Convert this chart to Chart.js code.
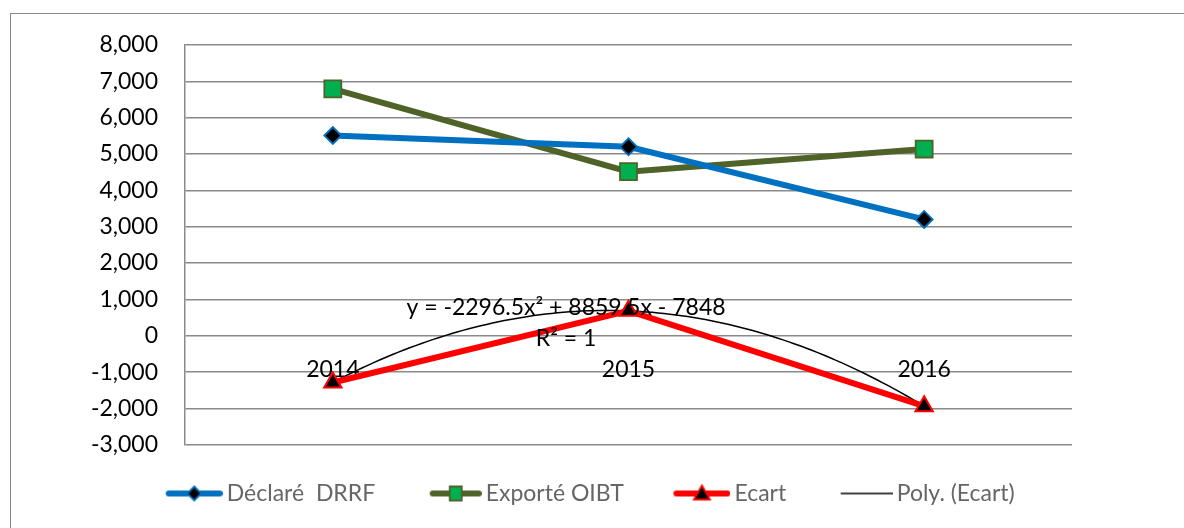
<!DOCTYPE html>
<html>
<head>
<meta charset="utf-8">
<script src="https://cdn.jsdelivr.net/npm/chart.js@4.4.0/dist/chart.umd.min.js"></script>
<style>
  html, body { margin: 0; padding: 0; background: #fff; overflow: hidden; }
  #wrap { position: relative; width: 1184px; height: 528px; }
  #frame { position: absolute; left: 10px; top: 13px; width: 1200px; height: 600px; border: 1.5px solid #878787; box-sizing: border-box; }
  #chart { position: absolute; left: 0; top: 0; }
</style>
</head>
<body>
<div id="wrap">
  <div id="frame"></div>
  <canvas id="chart" width="1184" height="528"></canvas>
</div>
<script>
// data
const years = ['2014', '2015', '2016'];
const declareDRRF = [5510, 5200, 3200];
const exporteOIBT = [6795, 4515, 5138];
const ecart = [-1285, 685, -1938];
// Excel polynomial trendline of Ecart, x = 1..3
const polyCoef = [-2296.5, 8859.5, -7848];
const yTicks = [-3000, -2000, -1000, 0, 1000, 2000, 3000, 4000, 5000, 6000, 7000, 8000];

const FONT = { family: 'Lato, "Open Sans", sans-serif', size: 23 };
const GRID = '#8a8a8a';

// legend swatch: line with marker in the middle (transparent lead for spacing)
function swatch(color, lineW, len, marker, fill, stroke) {
  const c = document.createElement('canvas');
  c.width = 104; c.height = 24;
  const g = c.getContext('2d');
  const x1 = 104 - len, cy = 12;
  g.strokeStyle = color;
  g.lineWidth = lineW;
  g.lineCap = lineW > 3 ? 'round' : 'butt';
  g.beginPath();
  g.moveTo(x1 + (lineW > 3 ? 3 : 0), cy);
  g.lineTo(104 - (lineW > 3 ? 3 : 0), cy);
  g.stroke();
  const mx = x1 + len / 2;
  g.lineCap = 'butt';
  g.lineWidth = 1.8;
  g.fillStyle = fill;
  g.strokeStyle = stroke;
  g.beginPath();
  if (marker === 'diamond') {
    g.moveTo(mx, cy - 7); g.lineTo(mx + 7, cy); g.lineTo(mx, cy + 7); g.lineTo(mx - 7, cy); g.closePath();
  } else if (marker === 'square') {
    g.rect(mx - 6, cy - 7, 12, 14);
  } else if (marker === 'triangle') {
    g.moveTo(mx, cy - 8); g.lineTo(mx + 8, cy + 6); g.lineTo(mx - 8, cy + 6); g.closePath();
  } else {
    return c;
  }
  g.fill(); g.stroke();
  return c;
}

const icons = [
  swatch('#0070C0', 6, 57, 'diamond', '#000', '#0070C0'),
  swatch('#4F6228', 6, 52, 'square', '#00B050', '#4F6228'),
  swatch('#FF0000', 6, 57, 'triangle', '#000', '#FF0000'),
  swatch('#000', 1.5, 52, null)
];
const legendNames = ['Déclaré  DRRF', 'Exporté OIBT', 'Ecart', 'Poly. (Ecart)'];

const polyTrend = {
  id: 'polyTrend',
  beforeDatasetsDraw(chart) {
    const xs = chart.scales.x, ys = chart.scales.y, g = chart.ctx;
    g.save();
    g.beginPath();
    for (let i = 0; i <= 100; i++) {
      const t = i / 50;
      const n = t + 1;
      const v = polyCoef[0] * n * n + polyCoef[1] * n + polyCoef[2];
      const px = xs.getPixelForValue(t), py = ys.getPixelForValue(v);
      if (i === 0) g.moveTo(px, py); else g.lineTo(px, py);
    }
    g.lineWidth = 1.5;
    g.strokeStyle = '#000';
    g.stroke();
    g.restore();
  },
  afterDatasetsDraw(chart) {
    const g = chart.ctx;
    g.save();
    g.font = FONT.size + 'px ' + FONT.family;
    g.fillStyle = '#000';
    g.textAlign = 'center';
    g.textBaseline = 'middle';
    g.fillText('y = -2296.5x² + 8859.5x - 7848', 566, 308);
    g.fillText('R² = 1', 566, 339);
    g.restore();
  }
};

new Chart(document.getElementById('chart'), {
  type: 'line',
  data: {
    labels: years,
    datasets: [{
      label: legendNames[0],
      data: declareDRRF,
      borderColor: '#0070C0',
      borderWidth: 6,
      pointStyle: 'rectRot',
      pointRadius: 8.5,
      pointBackgroundColor: '#000',
      pointBorderColor: '#0070C0',
      pointBorderWidth: 1.8
    }, {
      label: legendNames[1],
      data: exporteOIBT,
      borderColor: '#4F6228',
      borderWidth: 6,
      pointStyle: 'rect',
      pointRadius: 12,
      pointBackgroundColor: '#00B050',
      pointBorderColor: '#4F6228',
      pointBorderWidth: 1.8
    }, {
      label: legendNames[2],
      data: ecart,
      borderColor: '#FF0000',
      borderWidth: 6,
      pointStyle: 'triangle',
      pointRadius: 10,
      pointBackgroundColor: '#000',
      pointBorderColor: '#FF0000',
      pointBorderWidth: 2
    }]
  },
  options: {
    responsive: false,
    devicePixelRatio: 1,
    animation: false,
    events: [],
    layout: { padding: { top: 45, left: 69, right: 112, bottom: 13 } },
    plugins: {
      tooltip: { enabled: false },
      legend: {
        position: 'bottom',
        title: { display: true, text: ' ', font: { size: 1 }, padding: { top: 26, bottom: 0 } },
        labels: {
          usePointStyle: true,
          pointStyleWidth: 89,
          padding: 10,
          color: '#000',
          font: FONT,
          generateLabels: () => legendNames.map((name, i) => ({
            text: name,
            pointStyle: icons[i],
            fillStyle: 'transparent',
            strokeStyle: 'transparent',
            lineWidth: 0,
            datasetIndex: i
          }))
        }
      }
    },
    scales: {
      x: {
        position: { y: 0 },
        offset: true,
        grid: { display: false, drawTicks: false },
        border: { display: false },
        ticks: { color: '#000', font: FONT, padding: 20 }
      },
      y: {
        min: -3000,
        max: 8000,
        afterBuildTicks(s) { s.ticks = yTicks.map(v => ({ value: v })); },
        afterFit(s) { s.width = 116; },
        grid: { color: GRID, lineWidth: 1.5, drawTicks: false },
        border: { color: GRID, width: 1.5 },
        ticks: {
          color: '#000',
          font: FONT,
          padding: 27,
          callback: v => v.toLocaleString('en-US')
        }
      }
    }
  },
  plugins: [polyTrend]
});
</script>
</body>
</html>
